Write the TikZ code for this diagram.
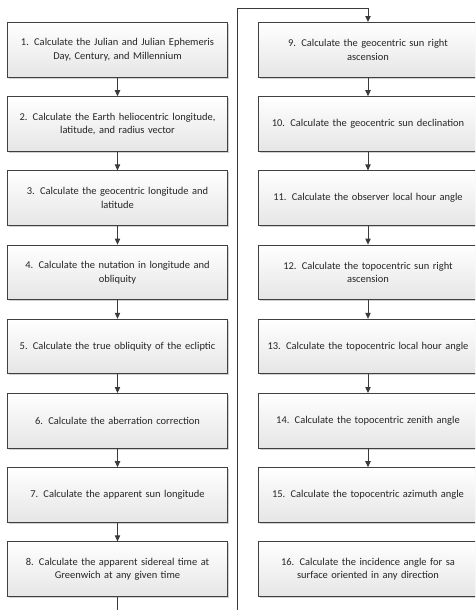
\documentclass[tikz,border=0pt]{standalone}
\usepackage{fontspec}
\setmainfont{Carlito}
\usetikzlibrary{arrows.meta,shadows}
\definecolor{edgec}{HTML}{404040}
\definecolor{linec}{HTML}{3A3A3A}
\tikzset{
  stepbox/.style={draw=edgec, line width=0.6pt, top color=white, bottom color=black!10,
    minimum width=165pt, minimum height=41pt, text width=160pt, align=center,
    inner sep=0pt, font=\fontsize{7.85pt}{10.3pt}\selectfont, text=black!85,
    drop shadow={shadow xshift=1.2pt, shadow yshift=-1.2pt, fill=black, opacity=0.18}},
  arr/.style={draw=linec, line width=0.6pt, -{Triangle[length=4.5pt,width=4pt]}},
}
\begin{document}
\begin{tikzpicture}[x=0.75pt,y=-0.75pt]
\useasboundingbox (0,0) rectangle (475,610);
\clip (0,0) rectangle (475,610);
% left column
\node[stepbox] (b1) at (117.5,49.75) {1. Calculate the Julian and Julian Ephemeris\\Day, Century, and Millennium};
\node[stepbox] (b2) at (117.5,123.95) {2. Calculate the Earth heliocentric longitude,\\latitude, and radius vector};
\node[stepbox] (b3) at (117.5,198.15) {3. Calculate the geocentric longitude and\\latitude};
\node[stepbox] (b4) at (117.5,272.35) {4. Calculate the nutation in longitude and\\obliquity};
\node[stepbox] (b5) at (117.5,346.55) {5. Calculate the true obliquity of the ecliptic};
\node[stepbox] (b6) at (117.5,420.75) {6. Calculate the aberration correction};
\node[stepbox] (b7) at (117.5,494.95) {7. Calculate the apparent sun longitude};
\node[stepbox] (b8) at (117.5,569.15) {8. Calculate the apparent sidereal time at\\Greenwich at any given time};
% right column
\node[stepbox] (b9) at (368,49.75) {9. Calculate the geocentric sun right\\ascension};
\node[stepbox] (b10) at (368,123.95) {10. Calculate the geocentric sun declination};
\node[stepbox] (b11) at (368,198.15) {11. Calculate the observer local hour angle};
\node[stepbox] (b12) at (368,272.35) {12. Calculate the topocentric sun right\\ascension};
\node[stepbox] (b13) at (368,346.55) {13. Calculate the topocentric local hour angle};
\node[stepbox] (b14) at (368,420.75) {14. Calculate the topocentric zenith angle};
\node[stepbox] (b15) at (368,494.95) {15. Calculate the topocentric azimuth angle};
\node[stepbox] (b16) at (368,569.15) {16. Calculate the incidence angle for sa\\surface oriented in any direction};
% connectors
\foreach \a/\b in {b1/b2,b2/b3,b3/b4,b4/b5,b5/b6,b6/b7,b7/b8,b9/b10,b10/b11,b11/b12,b12/b13,b13/b14,b14/b15}
  \draw[arr] (\a.south) -- (\b.north);
\coordinate (loopbot) at (237.5,625);
\coordinate (looptop) at (237.5,8);
\draw[arr] (b8.south) |- (loopbot) -- (looptop) -| (b9.north);
\end{tikzpicture}
\end{document}
